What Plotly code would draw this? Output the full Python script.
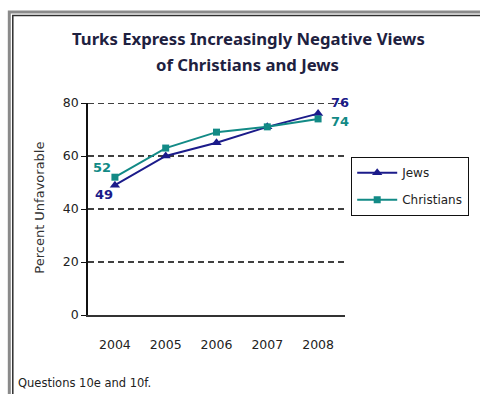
import plotly.graph_objects as go

years = [2004, 2005, 2006, 2007, 2008]
jews = [49, 60, 65, 71, 76]
christians = [52, 63, 69, 71, 74]
y_ticks = [0, 20, 40, 60, 80]

L, R, T, B = 88, 346, 103, 315
W, H = 480, 394

def px(x):
    return (x - L) / (R - L)

def py(y):
    return (B - y) / (B - T)

JEW_C = "#1b1b8a"
CHR_C = "#128a86"
FONT = "DejaVu Sans"

fig = go.Figure()
fig.add_trace(go.Scatter(x=years, y=jews, name="Jews", mode="lines+markers",
                         line=dict(color=JEW_C, width=2),
                         marker=dict(symbol="triangle-up", size=9, color=JEW_C),
                         legendgroup="j"))
fig.add_trace(go.Scatter(x=years, y=christians, name="Christians", mode="lines+markers",
                         line=dict(color=CHR_C, width=2),
                         marker=dict(symbol="square", size=7, color=CHR_C),
                         legendgroup="c"))

def pa(text, x, y, font, **kw):
    d = dict(text=text, x=px(x), y=py(y), xref="paper", yref="paper", showarrow=False,
             xanchor="center", yanchor="middle", font=font)
    d.update(kw)
    return d

annotations = []
tfont = dict(family="Noto Sans", size=16.7, color="#1e2140")
annotations.append(pa("<b>Turks Express Increasingly Negative Views</b>", 249, 38, tfont))
annotations.append(pa("<b>of Christians and Jews</b>", 248, 65, tfont))
annotations.append(pa("Percent Unfavorable", 38.5, 208, dict(family=FONT, size=13, color="#333333"),
                      textangle=-90))
annotations.append(pa("Questions 10e and 10f.", 16, 383, dict(family=FONT, size=11.5, color="#222222"),
                      xanchor="left"))

def dl(val, x, color, xs, ys):
    return dict(text="<b>%d</b>" % val, x=x, y=val, xshift=xs, yshift=ys, showarrow=False,
                xanchor="center", yanchor="middle", font=dict(family=FONT, size=13, color=color))

annotations.append(dl(christians[0], years[0], CHR_C, -13, 10))
annotations.append(dl(jews[0], years[0], JEW_C, -11, -9))
annotations.append(dl(jews[-1], years[-1], JEW_C, 22, 11))
annotations.append(dl(christians[-1], years[-1], CHR_C, 22, -3))

shapes = [
    dict(type="rect", xref="paper", yref="paper", x0=px(9), x1=px(490), y0=py(12), y1=py(410),
         line=dict(color="#8a8a8a", width=3), fillcolor="rgba(0,0,0,0)", layer="below"),
    dict(type="rect", xref="paper", yref="paper", x0=px(12.5), x1=px(490), y0=py(15.5), y1=py(410),
         line=dict(color="#2e2e2e", width=1.5), fillcolor="rgba(0,0,0,0)", layer="below"),
]
for v in y_ticks[1:]:
    shapes.append(dict(type="line", xref="paper", yref="y", x0=0, x1=1, y0=v, y1=v,
                       line=dict(color="#000000", width=1.5, dash="6px,4px"), layer="below"))

fig.update_layout(
    width=W, height=H,
    margin=dict(l=L, r=W - R, t=T, b=H - B),
    paper_bgcolor="white", plot_bgcolor="white",
    showlegend=True,
    legend=dict(x=px(351), y=py(157), xanchor="left", yanchor="top",
                bordercolor="#111111", borderwidth=1.2, bgcolor="white",
                font=dict(family=FONT, size=12, color="#222222"),
                tracegroupgap=8, itemwidth=40),
    annotations=annotations,
    shapes=shapes,
    xaxis=dict(range=[2003.47, 2008.53], tickvals=years, ticktext=[str(y) for y in years],
               showgrid=False, zeroline=False, showline=True, linecolor="#333333", linewidth=1.5,
               ticks="", ticklabelstandoff=17,
               tickfont=dict(family=FONT, size=12.5, color="#222222")),
    yaxis=dict(range=[0, 80], tickvals=y_ticks, showgrid=False, zeroline=False,
               showline=True, linecolor="#111111", linewidth=1.5,
               ticks="outside", ticklen=5, tickcolor="#111111",
               tickfont=dict(family=FONT, size=12.5, color="#222222")),
)

fig.write_html("out.html")
